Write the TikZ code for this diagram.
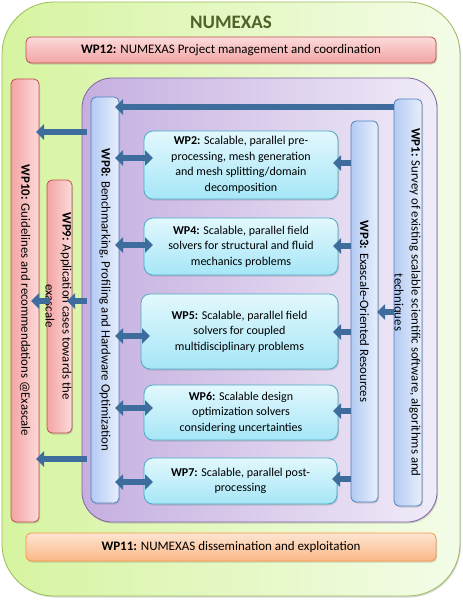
\documentclass[tikz,border=0pt]{standalone}
\usepackage{fontspec}
\setmainfont{Carlito}
\usetikzlibrary{arrows.meta,shadows,calc}
\definecolor{grnL}{HTML}{D6F4A0}
\definecolor{grnR}{HTML}{F4FCE8}
\definecolor{grnB}{HTML}{9BBB59}
\definecolor{titleC}{HTML}{4F6228}
\definecolor{redT}{HTML}{FCDADA}
\definecolor{redD}{HTML}{F3A4A4}
\definecolor{redB}{HTML}{C0504D}
\definecolor{orT}{HTML}{FDE5D2}
\definecolor{orD}{HTML}{FBB886}
\definecolor{orB}{HTML}{F79646}
\definecolor{purL}{HTML}{C5AFE0}
\definecolor{purR}{HTML}{F0EBF8}
\definecolor{purB}{HTML}{8064A2}
\definecolor{bluL}{HTML}{B3CBF3}
\definecolor{bluR}{HTML}{E8EFFC}
\definecolor{bluB}{HTML}{4F81BD}
\definecolor{cyT}{HTML}{E2F8FD}
\definecolor{cyD}{HTML}{A6E6F7}
\definecolor{cyB}{HTML}{4BACC6}
\definecolor{arrC}{HTML}{3E6C9C}
\begin{document}
\begin{tikzpicture}[x=1pt,y=-1pt,
  base/.style={draw, inner sep=0pt, outer sep=0pt, line width=0.8pt,
    drop shadow={shadow xshift=1pt,shadow yshift=-1.5pt,opacity=0.3}},
  outerbox/.style={base, rounded corners=52pt, left color=grnL, right color=grnR, draw=grnB},
  purbox/.style={base, rounded corners=30pt, left color=purL, right color=purR, draw=purB},
  redh/.style={base, rounded corners=5pt, top color=redT, bottom color=redD, draw=redB},
  redv/.style={base, rounded corners=5pt, left color=redD, right color=redT, draw=redB},
  orh/.style={base, rounded corners=5pt, top color=orT, bottom color=orD, draw=orB},
  bluv/.style={base, rounded corners=5pt, left color=bluL, right color=bluR, draw=bluB},
  wpbox/.style={base, rounded corners=9pt, top color=cyT, bottom color=cyD, draw=cyB,
    align=center, font=\fontsize{12}{15.5}\selectfont},
  vtext/.style={rotate=-90, align=center, inner sep=0pt, font=\fontsize{12.8}{17}\selectfont},
  htext/.style={font=\fontsize{13}{15}\selectfont},
  arr/.style={arrC, line width=5.5pt, -{Triangle[width=15pt,length=8pt]}},
  darr/.style={arrC, line width=5.5pt, {Triangle[width=15pt,length=8pt]}-{Triangle[width=15pt,length=8pt]}}
]
\useasboundingbox (0,0) rectangle (463,600);
% outer
\node[outerbox, minimum width=458pt, minimum height=594pt] (outer) at (231,299) {};
\node[font=\fontsize{19}{22}\selectfont\bfseries, text=titleC] (title) at (231,22) {NUMEXAS};
\node[redh, minimum width=410pt, minimum height=26pt, htext] (wp12) at (231,50) {\textbf{WP12:} NUMEXAS Project management and coordination};
\node[orh, minimum width=410pt, minimum height=28pt, htext] (wp11) at (231,547) {\textbf{WP11:} NUMEXAS dissemination and exploitation};
% left bars
\node[redv, minimum width=28pt, minimum height=443pt] (wp10) at (25,300.5) {};
\node[vtext] (wp10t) at (wp10.center) {\textbf{WP10:} Guidelines and recommendations @Exascale};
\node[redv, minimum width=25pt, minimum height=253pt] (wp9) at (59.5,306.5) {};
\node[vtext] (wp9t) at (58.5,306) {\textbf{WP9:} Application cases towards the\\exascale};
% purple
\node[purbox, minimum width=355pt, minimum height=444pt] (pur) at (259.5,300) {};
\node[bluv, minimum width=28pt, minimum height=406pt] (wp8) at (105,300) {};
\node[vtext] (wp8t) at (wp8.center) {\textbf{WP8:} Benchmarking, Profiling and Hardware Optimization};
\node[bluv, minimum width=28pt, minimum height=407pt] (wp1) at (408,302.5) {};
\node[vtext] (wp1t) at (406.5,302.5) {\textbf{WP1:} Survey of existing scalable scientific software, algorithms and\\techniques};
\node[bluv, minimum width=27pt, minimum height=381pt] (wp3) at (364.5,311.5) {};
\node[vtext] (wp3t) at (wp3.center) {\textbf{WP3:} Exascale-Oriented Resources};
% WP boxes
\node[wpbox, minimum width=194pt, minimum height=68pt] (wp2) at (241,165) {\textbf{WP2:} Scalable, parallel pre-\\processing, mesh generation\\and mesh splitting/domain\\decomposition};
\node[wpbox, minimum width=194pt, minimum height=57pt] (wp4) at (241,246.5) {\textbf{WP4:} Scalable, parallel field\\solvers for structural and fluid\\mechanics problems};
\node[wpbox, minimum width=197pt, minimum height=75pt] (wp5) at (239.5,331.5) {\textbf{WP5:} Scalable, parallel field\\solvers for coupled\\multidisciplinary problems};
\node[wpbox, minimum width=194pt, minimum height=55pt] (wp6) at (241,412.5) {\textbf{WP6:} Scalable design\\optimization solvers\\considering uncertainties};
\node[wpbox, minimum width=193pt, minimum height=46pt] (wp7) at (240.5,481) {\textbf{WP7:} Scalable, parallel post-\\processing};
% arrows
\draw[arr] ($(wp1.west |- 0,107)$) -- ($(wp8.east |- 0,107)+(-4,0)$);
\draw[arr] ($(wp1.west |- 0,312)$) -- ($(wp3.east |- 0,312)+(-1,0)$);
\foreach \b/\ya/\yb in {wp2/158/163, wp4/245/246, wp5/336/332, wp6/408/411, wp7/482/479} {
  \draw[darr] ($(wp8.east |- 0,\ya)+(-4,0)$) -- ($(\b.west |- 0,\ya)+(9,0)$);
  \draw[arr] ($(wp3.west |- 0,\yb)$) -- ($(\b.east |- 0,\yb)+(-5,0)$);
}
\draw[arr] ($(pur.west |- 0,132)+(5,0)$) -- ($(wp10.east |- 0,132)+(-3,0)$);
\draw[arr] ($(pur.west |- 0,459)+(5,0)$) -- ($(wp10.east |- 0,459)+(-3,0)$);
\draw[arr] ($(pur.west |- 0,301)+(5,0)$) -- ($(wp9.east |- 0,301)+(-5,0)$);
\draw[arr] ($(wp9.west |- 0,301)+(3,0)$) -- ($(wp10.east |- 0,301)+(-8,0)$);
\end{tikzpicture}
\end{document}
